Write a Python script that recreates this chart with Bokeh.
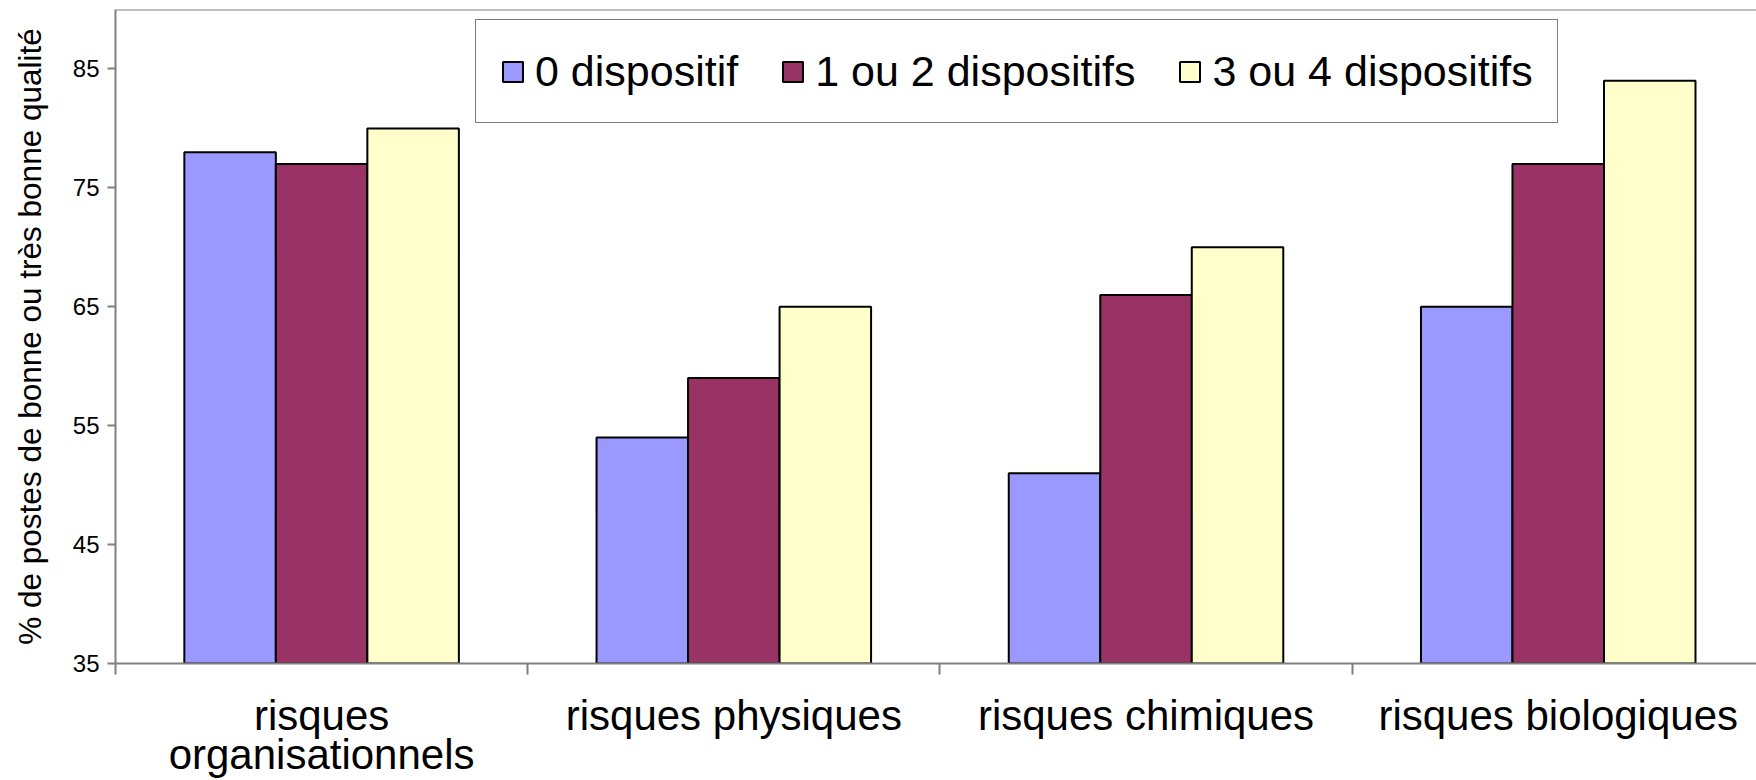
from bokeh.plotting import figure
from bokeh.models import Range1d, FixedTicker, Span, Legend, LegendItem, ColumnDataSource, LinearAxis
from bokeh.embed import file_html
from bokeh.resources import INLINE

categories = ["risques\norganisationnels", "risques physiques", "risques chimiques", "risques biologiques"]
series_names = ["0 dispositif", "1 ou 2 dispositifs", "3 ou 4 dispositifs"]
vals_0 = [78, 54, 51, 65]
vals_12 = [77, 59, 66, 77]
vals_34 = [80, 65, 70, 84]
y_ticks = [35, 45, 55, 65, 75, 85]
colors = ["#9999FF", "#993366", "#FFFFCC"]

FONT = "Liberation Sans"
n = len(categories)

p = figure(width=1756, height=780, output_backend="svg", toolbar_location=None,
           x_range=Range1d(0, 3.981), y_range=Range1d(35, 90),
           min_border_left=115, min_border_right=0, min_border_top=9, min_border_bottom=116)
p.outline_line_color = None
p.grid.visible = False
p.background_fill_color = "white"
p.border_fill_color = "white"

bw = 0.222
offsets = [-bw, 0.0, bw]
series = [vals_0, vals_12, vals_34]
items = []
for name, vals, off, col in zip(series_names, series, offsets, colors):
    src = ColumnDataSource(dict(x=[i + 0.5 + off for i in range(n)], top=vals))
    r = p.vbar(x="x", top="top", bottom=35, width=bw, source=src,
               fill_color=col, line_color="black", line_width=2)
    items.append(LegendItem(label=name, renderers=[r]))

p.add_layout(Span(location=90, dimension="width", line_color="#808080", line_width=2))

# y axis
ya = p.yaxis[0]
ya.ticker = FixedTicker(ticks=y_ticks, minor_ticks=[])
ya.axis_line_color = "#808080"
ya.axis_line_width = 2
ya.major_tick_line_color = "#808080"
ya.major_tick_line_width = 2
ya.major_tick_out = 8
ya.major_tick_in = 0
ya.major_label_standoff = 8
ya.major_label_text_font = FONT
ya.major_label_text_font_size = "24px"
ya.major_label_text_color = "black"
ya.axis_label = "% de postes de bonne ou très bonne qualité"
ya.axis_label_text_font = FONT
ya.axis_label_text_font_size = "31.5px"
ya.axis_label_text_font_style = "normal"
ya.axis_label_text_color = "black"
ya.axis_label_standoff = 22

# x axis: first line of each category name
first_lines = [c.split("\n")[0] for c in categories]
second_lines = [c.split("\n")[1] if "\n" in c else "" for c in categories]
centers = [i + 0.5 for i in range(n)]

xa = p.xaxis[0]
xa.ticker = FixedTicker(ticks=centers, minor_ticks=[i for i in range(n + 1)])
xa.major_label_overrides = {c: t for c, t in zip(centers, first_lines)}
xa.axis_line_color = "#808080"
xa.axis_line_width = 2
xa.major_tick_out = 0
xa.major_tick_in = 0
xa.minor_tick_line_color = "#808080"
xa.minor_tick_line_width = 2
xa.minor_tick_out = 11
xa.minor_tick_in = 0
xa.major_label_standoff = 17
xa.major_label_text_font = FONT
xa.major_label_text_font_size = "42px"
xa.major_label_text_color = "black"

# second line of wrapped category names
xa2 = LinearAxis(ticker=FixedTicker(ticks=centers, minor_ticks=[]),
                 major_label_overrides={c: t for c, t in zip(centers, second_lines)})
xa2.axis_line_color = None
xa2.major_tick_line_color = None
xa2.minor_tick_line_color = None
xa2.major_tick_out = 0
xa2.major_tick_in = 0
xa2.minor_tick_out = 0
xa2.minor_tick_in = 0
xa2.major_label_standoff = -11
xa2.major_label_text_font = FONT
xa2.major_label_text_font_size = "42px"
xa2.major_label_text_color = "black"
p.add_layout(xa2, "below")

legend = Legend(items=items, location=(360, 540), orientation="horizontal",
                border_line_color="black", border_line_width=1.5,
                background_fill_color="white", background_fill_alpha=1,
                padding=24, spacing=42, margin=0, label_standoff=10,
                glyph_width=25, glyph_height=25, label_height=54,
                label_text_font=FONT, label_text_font_size="43px", label_text_color="black")
p.add_layout(legend)

open("out.html", "w").write(file_html(p, INLINE))
